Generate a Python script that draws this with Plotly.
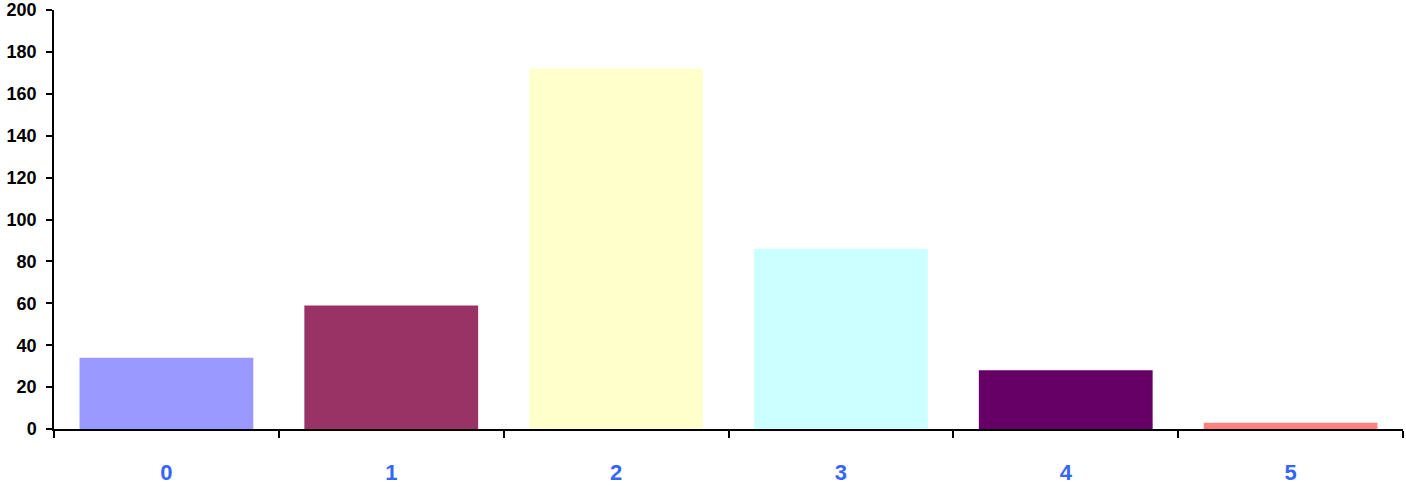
import plotly.graph_objects as go

categories = ["0", "1", "2", "3", "4", "5"]
values = [34, 59, 172, 86, 28, 3]
colors = ["#9999FF", "#993366", "#FFFFCC", "#CCFFFF", "#660066", "#FF8080"]
y_ticks = list(range(0, 201, 20))

fig = go.Figure(go.Bar(x=categories, y=values, marker=dict(color=colors, line=dict(width=0)),
                       width=0.773, hoverinfo="skip"))

fig.update_layout(
    width=1406, height=487,
    margin=dict(l=54, r=3, t=10, b=58, autoexpand=False),
    plot_bgcolor="white", paper_bgcolor="white",
    showlegend=False,
    bargap=0.227,
)
fig.update_xaxes(
    type="category", showline=True, linecolor="black", linewidth=1.5,
    ticks="outside", tickson="boundaries", ticklen=7, tickcolor="black", tickwidth=1.5,
    tickfont=dict(family="Liberation Sans", size=22, color="#3366FF", weight="bold"),
    ticklabelstandoff=23, showgrid=False, zeroline=False, automargin=False,
)
fig.update_yaxes(
    range=[0, 200], tickvals=y_ticks, showline=True, linecolor="black", linewidth=1.5,
    ticks="outside", ticklen=6, tickcolor="black", tickwidth=1.5,
    tickfont=dict(family="Liberation Sans", size=18, color="black", weight="bold"),
    ticklabelstandoff=6, ticklabeloverflow="allow",
    showgrid=False, zeroline=False, automargin=False,
)

fig.write_html("out.html", config={"displayModeBar": False},
               post_script="document.body.style.margin='0';")
